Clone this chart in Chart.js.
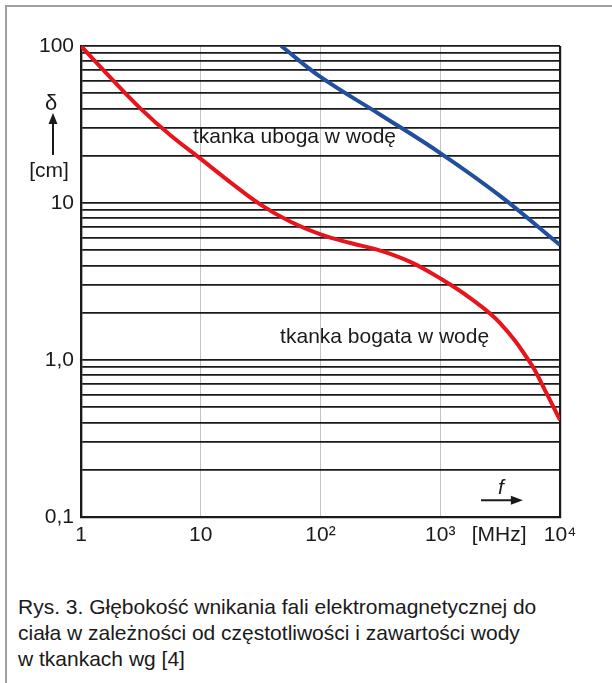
<!DOCTYPE html>
<html>
<head>
<meta charset="utf-8">
<script src="https://cdn.jsdelivr.net/npm/chart.js@4/dist/chart.umd.min.js"></script>
<style>
  html, body { margin: 0; padding: 0; background: #fff; }
  body { width: 612px; height: 683px; position: relative; overflow: hidden; font-family: "Liberation Sans", Arial, sans-serif; }
  #frame { position: absolute; left: 5px; top: 5px; width: 700px; height: 800px; border-left: 2px solid #a0a0a0; border-top: 2px solid #a0a0a0; }
  #wrap { position: absolute; left: 0; top: 0; width: 612px; height: 580px; }
  #caption { position: absolute; left: 18px; top: 594px; font-size: 21px; line-height: 26px; color: #1a1a1a; white-space: nowrap; }
</style>
</head>
<body>
<div id="frame"></div>
<div id="wrap"><canvas id="c" width="612" height="580"></canvas></div>
<div id="caption">Rys. 3. Głębokość wnikania fali elektromagnetycznej do<br>ciała w zależności od częstotliwości i zawartości wody<br>w tkankach wg [4]</div>
<script>
// ---- data ----
// water-rich tissue (red)
const freqRich  = [1, 1.78, 3.16, 5.62, 10, 17.8, 31.6, 56.2, 100, 178, 316, 562, 1000, 1780, 3160, 5620, 7500, 10000];
const deltaRich = [100, 62.4, 39.8, 26.9, 19.1, 13.5, 9.77, 7.59, 6.31, 5.56, 4.98, 4.22, 3.31, 2.48, 1.72, 0.966, 0.641, 0.415];
// water-poor tissue (blue)
const freqPoor  = [47, 100, 316, 1000, 3160, 10000];
const deltaPoor = [100, 63.5, 36.5, 20.8, 11.1, 5.4];

const xTickValues = [1, 10, 100, 1000, 10000];
const xTickLabels = ['1', '10', '10²', '10³', '10⁴'];
const yTickValues = [0.1, 0.2, 0.3, 0.4, 0.5, 0.6, 0.7, 0.8, 0.9,
                     1, 2, 3, 4, 5, 6, 7, 8, 9,
                     10, 20, 30, 40, 50, 60, 70, 80, 90, 100];
const yLabelValues = [0.1, 1, 10, 100];
const yLabelTexts  = ['0,1', '1,0', '10', '100'];
const curveLabels  = ['tkanka uboga w wodę', 'tkanka bogata w wodę'];
const axisLabels   = { y: 'δ', yUnit: '[cm]', x: 'f', xUnit: '[MHz]' };

const FONT = '"Liberation Sans", Arial, sans-serif';

const toPts = (xs, ys) => xs.map((x, i) => ({ x: x, y: ys[i] }));

const decorPlugin = {
  id: 'decor',
  afterDraw(chart) {
    const { ctx, chartArea: ca, scales } = chart;
    const xs = scales.x, ys = scales.y;
    ctx.save();
    ctx.fillStyle = '#1a1a1a';
    ctx.strokeStyle = '#1a1a1a';
    // curve labels
    ctx.font = '21px ' + FONT;
    ctx.textAlign = 'left';
    ctx.textBaseline = 'middle';
    ctx.fillText(curveLabels[0], xs.getPixelForValue(8.6), ys.getPixelForValue(26.3));
    ctx.fillText(curveLabels[1], xs.getPixelForValue(46), ys.getPixelForValue(1.40));
    // [MHz]
    ctx.textAlign = 'center';
    ctx.textBaseline = 'top';
    ctx.fillText(axisLabels.xUnit, xs.getPixelForValue(3100), ca.bottom + 8);
    // delta + arrow + [cm]
    const ax = ca.left - 28;
    ctx.textBaseline = 'middle';
    ctx.font = '22px ' + FONT;
    ctx.fillText(axisLabels.y, ax - 2, ys.getPixelForValue(43));
    ctx.font = '21px ' + FONT;
    const tip = ys.getPixelForValue(37.4), tail = ys.getPixelForValue(20.2);
    ctx.lineWidth = 2;
    ctx.beginPath(); ctx.moveTo(ax, tail); ctx.lineTo(ax, tip + 8); ctx.stroke();
    ctx.beginPath(); ctx.moveTo(ax, tip); ctx.lineTo(ax - 4.5, tip + 11); ctx.lineTo(ax + 4.5, tip + 11); ctx.closePath(); ctx.fill();
    ctx.fillText(axisLabels.yUnit, ax - 4, ys.getPixelForValue(16));
    // f + arrow
    const ay = ys.getPixelForValue(0.128);
    const x0 = xs.getPixelForValue(2190), x1 = xs.getPixelForValue(4900);
    ctx.beginPath(); ctx.moveTo(x0, ay); ctx.lineTo(x1 - 8, ay); ctx.stroke();
    ctx.beginPath(); ctx.moveTo(x1, ay); ctx.lineTo(x1 - 12, ay - 4.5); ctx.lineTo(x1 - 12, ay + 4.5); ctx.closePath(); ctx.fill();
    ctx.font = 'italic 21px ' + FONT;
    ctx.textBaseline = 'alphabetic';
    ctx.fillText(axisLabels.x, (x0 + x1) / 2 - 1, ay - 6);
    ctx.restore();
  }
};

new Chart(document.getElementById('c'), {
  type: 'line',
  data: {
    datasets: [
      { data: toPts(freqPoor, deltaPoor), borderColor: '#1f4f9e', borderWidth: 4, pointRadius: 0, tension: 0.4, fill: false },
      { data: toPts(freqRich, deltaRich), borderColor: '#e8141c', borderWidth: 4, pointRadius: 0, tension: 0.4, fill: false }
    ]
  },
  options: {
    responsive: false,
    animation: false,
    devicePixelRatio: 1,
    parsing: false,
    layout: { padding: { left: 0, top: 46, right: 52, bottom: 0 } },
    plugins: { legend: { display: false }, tooltip: { enabled: false } },
    scales: {
      x: {
        type: 'logarithmic', min: 1, max: 10000,
        afterBuildTicks: s => { s.ticks = xTickValues.map(v => ({ value: v })); },
        afterFit: s => { s.height = 63; },
        ticks: {
          autoSkip: false, maxRotation: 0, padding: 6, color: '#1a1a1a',
          font: { size: 21, family: FONT },
          callback: v => { const i = xTickValues.indexOf(v); return i >= 0 ? xTickLabels[i] : ''; }
        },
        grid: {
          drawTicks: false,
          color: c => (c.index === 0 || c.index === xTickValues.length - 1) ? '#1a1a1a' : '#c4c4c4',
          lineWidth: c => (c.index === 0 || c.index === xTickValues.length - 1) ? 2.2 : 1
        },
        border: { display: true, color: '#1a1a1a', width: 2.2 }
      },
      y: {
        type: 'logarithmic', min: 0.1, max: 100,
        afterBuildTicks: s => { s.ticks = yTickValues.map(v => ({ value: v })); },
        afterFit: s => { s.width = 81; },
        ticks: {
          autoSkip: false, padding: 7, color: '#1a1a1a',
          font: { size: 21, family: FONT },
          callback: v => { const i = yLabelValues.indexOf(v); return i >= 0 ? yLabelTexts[i] : ''; }
        },
        grid: { drawTicks: false, color: '#1a1a1a', lineWidth: 1.8 },
        border: { display: true, color: '#1a1a1a', width: 2.2 }
      }
    }
  },
  plugins: [decorPlugin]
});
</script>
</body>
</html>
